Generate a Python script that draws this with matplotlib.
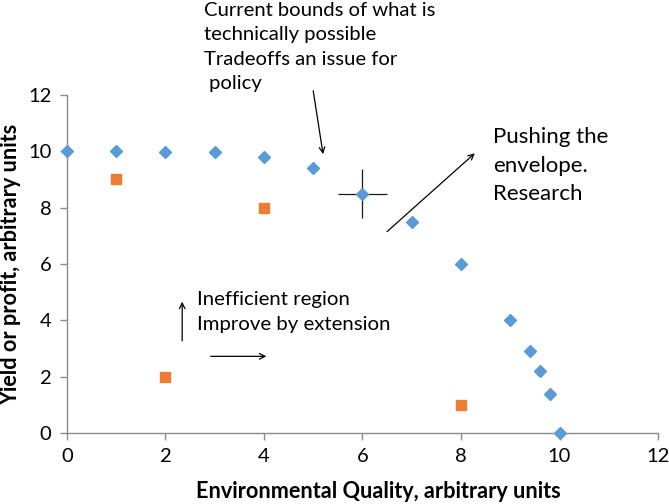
import matplotlib
matplotlib.use("Agg")
import matplotlib.pyplot as plt

plt.rcParams['font.family'] = ['Lato', 'DejaVu Sans']

# frontier (blue diamonds)
frontier_x = [0, 1, 2, 3, 4, 5, 6, 7, 8, 9, 9.4, 9.6, 9.8, 10]
frontier_y = [10, 10, 9.98, 9.97, 9.8, 9.4, 8.5, 7.5, 6, 4, 2.9, 2.2, 1.4, 0]
# inefficient points (orange squares)
ineff_x = [1, 4, 2, 8]
ineff_y = [9, 8, 2, 1]
# highlighted point with cross
cross_x = [6]
cross_y = [8.5]
cross_xerr = [0.5]
cross_yerr = [0.87]

x_ticks = [0, 2, 4, 6, 8, 10, 12]
y_ticks = [0, 2, 4, 6, 8, 10, 12]

fig = plt.figure(figsize=(6.69, 5.04), dpi=100)
ax = fig.add_axes([0.100, 0.141, 0.8836, 0.6705])

ax.errorbar(cross_x, cross_y, xerr=cross_xerr, yerr=cross_yerr, fmt='none',
            ecolor='#1a1a1a', elinewidth=0.9, capsize=0, zorder=2)
ax.plot(frontier_x, frontier_y, linestyle='none', marker='D', ms=6.5,
        color='#5B9BD5', mec='#5B9BD5', zorder=3, clip_on=False)
ax.plot(ineff_x, ineff_y, linestyle='none', marker='s', ms=6.5,
        color='#ED7D31', mec='#ED7D31', zorder=3, clip_on=False)

ax.set_xlim(0, 12)
ax.set_ylim(0, 12)
ax.set_xticks(x_ticks)
ax.set_yticks(y_ticks)
for s in ['top', 'right']:
    ax.spines[s].set_visible(False)
for s in ['left', 'bottom']:
    ax.spines[s].set_color('#8c8c8c')
    ax.spines[s].set_linewidth(1.0)
ax.tick_params(axis='both', direction='out', length=5, width=1.0,
               color='#8c8c8c', labelsize=14.5, labelcolor='black', pad=6)

fig.text(378 / 669, 1 - 491 / 504, 'Environmental Quality, arbitrary units',
         fontsize=15.6, fontweight='bold', ha='center', va='center')
fig.text(11 / 669, 1 - 264 / 504, 'Yield or profit, arbitrary units',
         fontsize=15.6, fontweight='bold', ha='center', va='center', rotation=90)

arrow = dict(arrowstyle='->', color='black', lw=0.9, shrinkA=0, shrinkB=0)

# top annotation
ax.text(2.78, 15.3, 'Current bounds of what is\ntechnically possible\nTradeoffs an issue for\n policy',
        fontsize=14.6, va='top', ha='left', linespacing=1.52, clip_on=False)
ax.annotate('', xy=(5.2, 9.9), xytext=(5.0, 12.15), arrowprops=arrow,
            annotation_clip=False)

# right annotation
ax.text(8.65, 10.85, 'Pushing the\nenvelope.\nResearch', fontsize=16,
        va='top', ha='left', linespacing=1.52)
ax.annotate('', xy=(8.28, 9.93), xytext=(6.5, 7.15), arrowprops=arrow)

# lower annotation
ax.text(2.64, 5.05, 'Inefficient region\nImprove by extension', fontsize=14.7,
        va='top', ha='left', linespacing=1.62)
ax.annotate('', xy=(2.34, 4.66), xytext=(2.34, 3.27), arrowprops=arrow)
ax.annotate('', xy=(4.05, 2.72), xytext=(2.92, 2.72), arrowprops=arrow)

fig.savefig('out.png', dpi=100)
